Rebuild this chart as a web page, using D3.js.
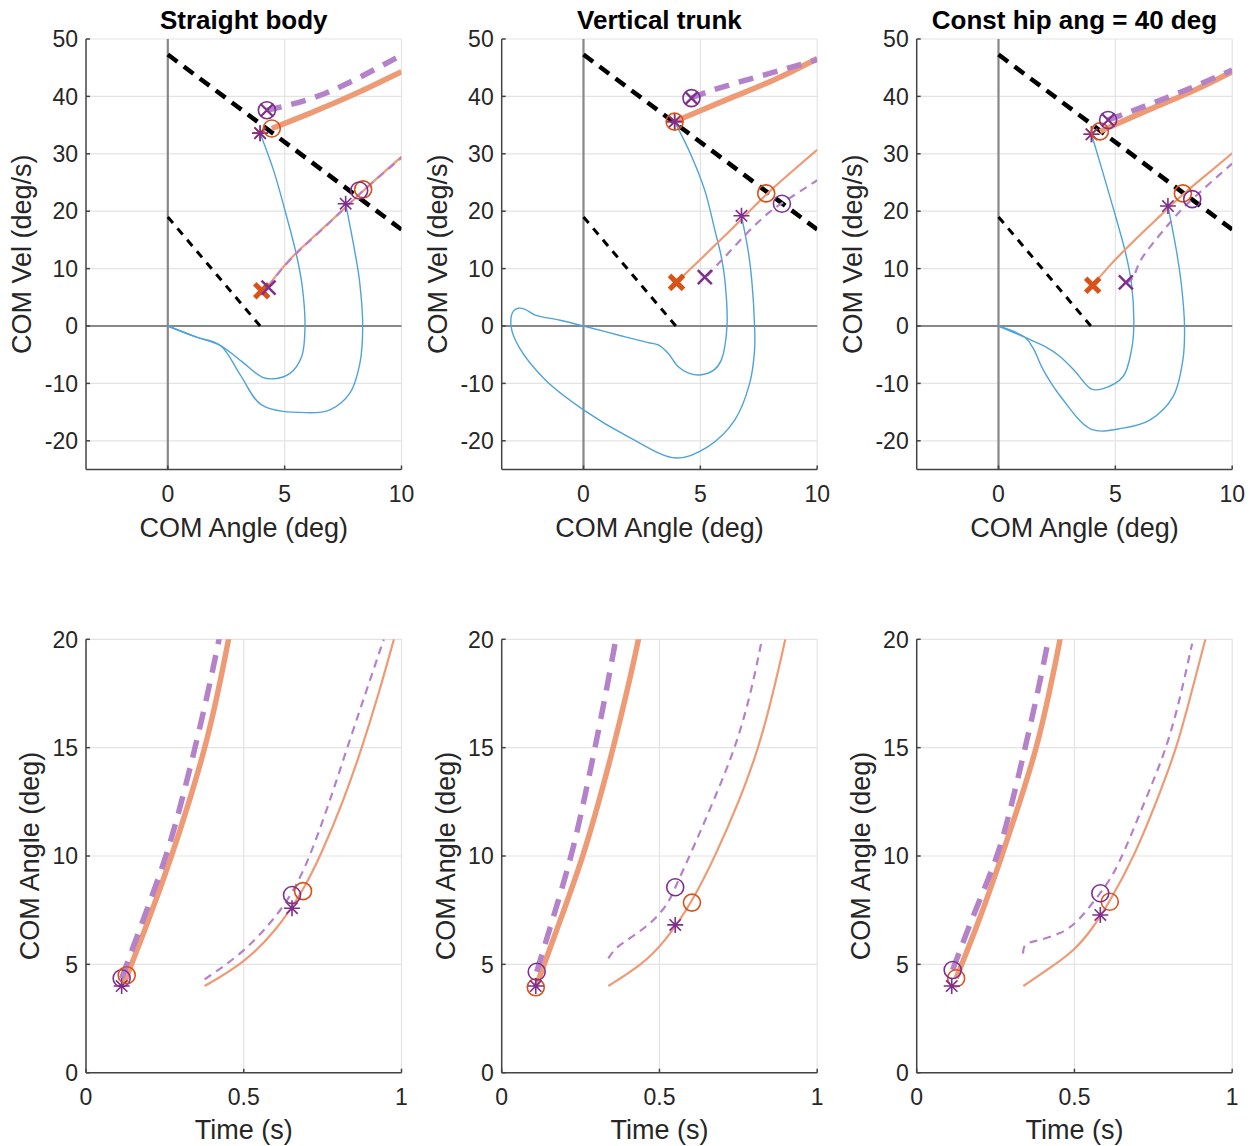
<!DOCTYPE html>
<html>
<head>
<meta charset="utf-8">
<script src="https://d3js.org/d3.v7.min.js"></script>
<style>
  body { margin: 0; background: #fff; }
  text { font-family: "Liberation Sans", Arial, sans-serif; fill: #262626; }
</style>
</head>
<body>
<script>
// ---- data ----
const titles = ["Straight body", "Vertical trunk", "Const hip ang = 40 deg"];
const velTicks = [-20, -10, 0, 10, 20, 30, 40, 50];
const angTicks = [0, 5, 10];
const timeTicks = [0, 0.5, 1];
const timeAngTicks = [0, 5, 10, 15, 20];

// shared reference lines (COM angle, COM vel)
const capLine = [[0, 47.3], [10, 16.8]];
const thinLine = [[0, 19], [3.95, 0]];

// straight body - phase plane
const sbBlueA = [[0,0],[1.2,-1.9],[2.25,-3.4],[3.2,-6.3],[4.03,-8.9],[4.52,-9.2],[5.24,-8.2],[5.73,-5.3],[5.87,0],[5.75,7],[5.5,12.5],[5.09,19],[4.52,27.2],[3.95,33.6]];
const sbBlueB = [[0,0],[1.2,-1.9],[2.25,-3.4],[3.1,-8.5],[4.03,-13.8],[5.95,-15.1],[6.94,-14.6],[7.79,-11.7],[8.22,-6.5],[8.34,0],[8.2,8],[8.0,13],[7.61,21.3]];
const sbOrangeUp = [[4.45,34.4],[6,36.9],[8,40.3],[10,44.3]];
const sbPurpleUp = [[4.24,37.6],[6.2,39.4],[8.1,43.0],[10,47.2]];
const sbOrangeLow = [[4.25,6.7],[4.8,9.7],[5.5,12.9],[7,18.3],[8.36,23.6],[10,29.5]];
const sbPurpleLow = [[4.31,6.9],[4.8,9.6],[5.5,12.8],[7,18.2],[8.19,23.1],[10,29.3]];
const sbMarks = [["star","o",3.95,33.6],["star","p",3.95,33.6],["circ","o",4.45,34.4],["circx","p",4.24,37.6],
  ["xbold","o",4.02,6.15],["x","p",4.31,6.7],["circ","o",8.36,23.8],["circ","p",8.19,23.6],["star","p",7.61,21.3]];

// vertical trunk - phase plane
const vtBlueA = [[0,0],[1.64,-1.74],[2.77,-2.9],[3.2,-3.3],[3.63,-4.8],[4.03,-7],[4.5,-8.2],[5.05,-8.5],[5.6,-7.6],[5.9,-5.9],[6.14,0],[6.05,8],[5.9,12],[5.62,16.7],[5.2,23.5],[4.6,29.8],[3.9,35.6]];
const vtBlueB = [[0,0],[-1.0,1.0],[-2.06,1.9],[-2.5,2.9],[-2.8,3.1],[-3.0,2.6],[-3.1,0],[-2.77,-3.6],[-1.63,-9.4],[0,-14.6],[1.92,-19.3],[3.98,-23],[5.33,-21],[6.47,-16.4],[7.11,-10],[7.32,-4.2],[7.32,0],[7.2,8],[7.05,13],[6.76,19.2]];
const vtOrangeUp = [[3.9,35.6],[6.2,39.6],[8.3,43.0],[10,46.6]];
const vtPurpleUp = [[4.62,39.7],[5.05,40.5],[6.46,42.3],[8.75,44.9],[10,46.4]];
const vtOrangeLow = [[3.98,7.6],[5,11.6],[6,15.5],[7,19.6],[7.82,23.0],[9,27.2],[10,30.7]];
const vtPurpleLow = [[5.3,8.7],[5.7,10.6],[6.19,12.6],[7.04,16.5],[8.03,20.2],[8.49,21.4],[10,25.4]];
const vtMarks = [["star","o",3.9,35.6],["star","p",3.9,35.6],["circ","o",3.9,35.6],["circx","p",4.62,39.7],
  ["xbold","o",3.98,7.6],["x","p",5.19,8.5],["circ","o",7.82,23.1],["circ","p",8.49,21.3],["star","p",6.76,19.2]];

// const hip angle - phase plane
const chBlueA = [[0,0],[1.14,-2.0],[2.0,-3.6],[2.63,-5.3],[3.3,-8.0],[3.98,-11.0],[4.48,-10.9],[5.33,-8.8],[5.69,-4.2],[5.79,0],[5.69,7.4],[5.45,12.5],[4.77,22.5],[3.98,33.4]];
const chBlueB = [[0,0],[1.14,-2.0],[1.5,-4.0],[1.92,-7.7],[2.77,-12.9],[3.98,-18.0],[5.33,-17.8],[6.47,-16.4],[7.47,-12.3],[7.89,-5.9],[7.96,0],[7.82,7.4],[7.61,13.2],[7.25,20.9]];
const chOrangeUp = [[4.34,33.9],[6.47,37.8],[8.46,41.1],[10,44.3]];
const chPurpleUp = [[4.69,35.9],[6.47,38.6],[8.46,41.8],[10,44.6]];
const chOrangeLow = [[4.03,7.1],[4.8,10.8],[5.8,14.9],[7,19.5],[7.89,23.0],[9,26.7],[10,30.1]];
const chPurpleLow = [[5.45,7.6],[5.75,7.9],[5.95,10.5],[6.2,12.4],[7.0,16.4],[7.7,19.8],[8.29,22.1],[9.1,25.1],[10,28.3]];
const chMarks = [["star","o",3.98,33.4],["star","p",3.98,33.4],["circ","o",4.34,33.9],["circx","p",4.69,35.9],
  ["xbold","o",4.03,7.1],["x","p",5.45,7.6],["circ","o",7.89,23.1],["circ","p",8.29,22.1],["star","p",7.25,20.9]];

// time series (time s, COM angle deg)
const sbTOrangeUp = [[0.12,4.1],[0.198,7],[0.272,10],[0.327,12.5],[0.378,15],[0.418,17.5],[0.452,20],[0.458,20.5]];
const sbTPurpleUp = [[0.113,4.36],[0.185,7.2],[0.256,10],[0.303,12.5],[0.346,15],[0.386,17.5],[0.422,20],[0.428,20.5]];
const sbTOrangeLow = [[0.376,4.0],[0.5,5.05],[0.6,6.5],[0.688,8.38],[0.743,10],[0.815,12.5],[0.875,15],[0.928,17.5],[0.976,20]];
const sbTPurpleLow = [[0.376,4.31],[0.489,5.43],[0.58,6.8],[0.653,8.2],[0.711,10],[0.772,12.5],[0.828,15],[0.888,17.6],[0.944,20]];
const sbTMarks = [["star","p",0.113,4.0],["circ","p",0.113,4.36],["circ","o",0.129,4.5],["circ","o",0.688,8.38],["circ","p",0.653,8.2],["star","p",0.653,7.59]];

const vtTOrangeUp = [[0.108,3.94],[0.185,7],[0.259,10],[0.308,12.5],[0.354,15],[0.396,17.5],[0.434,20],[0.44,20.5]];
const vtTPurpleUp = [[0.111,4.66],[0.16,7],[0.222,10],[0.26,12.5],[0.296,15],[0.33,17.5],[0.362,20],[0.367,20.5]];
const vtTOrangeLow = [[0.338,4.0],[0.446,5.0],[0.515,6.0],[0.603,7.85],[0.677,10],[0.755,12.6],[0.815,15],[0.86,17.5],[0.899,20]];
const vtTPurpleLow = [[0.338,5.28],[0.36,5.75],[0.391,6.05],[0.476,6.9],[0.529,7.82],[0.55,8.56],[0.614,10.59],[0.677,12.74],[0.741,15],[0.79,17.5],[0.825,20]];
const vtTMarks = [["circ","o",0.108,3.94],["star","p",0.108,4.0],["circ","p",0.111,4.66],["circ","o",0.603,7.85],["circ","p",0.55,8.56],["star","p",0.55,6.82]];

const chTOrangeUp = [[0.125,4.36],[0.198,7],[0.27,10],[0.327,12.5],[0.381,15],[0.42,17.5],[0.455,20],[0.46,20.5]];
const chTPurpleUp = [[0.114,4.74],[0.185,7.5],[0.259,10],[0.303,12.5],[0.344,15],[0.383,17.5],[0.418,20],[0.423,20.5]];
const chTOrangeLow = [[0.338,4.0],[0.44,5.0],[0.503,5.7],[0.555,6.6],[0.612,7.89],[0.69,10],[0.76,12.5],[0.825,15],[0.87,17.5],[0.915,20]];
const chTPurpleLow = [[0.337,5.5],[0.339,5.97],[0.381,6.08],[0.455,6.4],[0.508,6.9],[0.582,8.28],[0.635,9.35],[0.72,12.43],[0.794,15],[0.84,17.6],[0.873,19.8]];
const chTMarks = [["circ","o",0.125,4.36],["circ","p",0.114,4.74],["star","p",0.111,4.0],["circ","o",0.612,7.89],["circ","p",0.582,8.28],["star","p",0.582,7.28]];

const phase = [
  {blue: [sbBlueA, sbBlueB], up: [sbOrangeUp, sbPurpleUp], low: [sbOrangeLow, sbPurpleLow], marks: sbMarks},
  {blue: [vtBlueA, vtBlueB], up: [vtOrangeUp, vtPurpleUp], low: [vtOrangeLow, vtPurpleLow], marks: vtMarks},
  {blue: [chBlueA, chBlueB], up: [chOrangeUp, chPurpleUp], low: [chOrangeLow, chPurpleLow], marks: chMarks}
];
const timeSeries = [
  {up: [sbTOrangeUp, sbTPurpleUp], low: [sbTOrangeLow, sbTPurpleLow], marks: sbTMarks},
  {up: [vtTOrangeUp, vtTPurpleUp], low: [vtTOrangeLow, vtTPurpleLow], marks: vtTMarks},
  {up: [chTOrangeUp, chTPurpleUp], low: [chTOrangeLow, chTPurpleLow], marks: chTMarks}
];

// ---- drawing ----
const svg = d3.select("body").append("svg")
  .attr("width", 1255).attr("height", 1146);

const markCol = {o: "#D95319", p: "#7E2F8E"};
const lineOrange = "#EE9A74", linePurple = "#B482C8", blue = "#4FA3DB";
const axisCol = "#444", gridCol = "#e3e3e3";

const lefts = [86, 501.7, 916.7];
const pw = 315.5;

function drawMark(g, m, x, y) {
  const [type, s, vx, vy] = m;
  const cx = x(vx), cy = y(vy), c = markCol[s];
  const mg = g.append("g").attr("transform", `translate(${cx},${cy})`)
    .attr("stroke", c).attr("fill", "none");
  if (type === "circ" || type === "circx") {
    mg.append("circle").attr("r", 8.5).attr("stroke-width", 1.6);
  }
  if (type === "circx") {
    mg.append("path").attr("d", "M-6,-6L6,6M-6,6L6,-6").attr("stroke-width", 2.2);
  }
  if (type === "star") {
    mg.append("path").attr("d", "M-8,0L8,0M0,-8L0,8M-5.7,-5.7L5.7,5.7M-5.7,5.7L5.7,-5.7").attr("stroke-width", 1.6);
  }
  if (type === "xbold") {
    mg.append("path").attr("d", "M-7,-7L7,7M-7,7L7,-7").attr("stroke-width", 5);
  }
  if (type === "x") {
    mg.append("path").attr("d", "M-7,-7L7,7M-7,7L7,-7").attr("stroke-width", 2.5);
  }
}

function frame(g, x, y, xt, yt, top, bottom, left, zeroLines) {
  // grid
  g.selectAll(".gx").data(xt).join("line")
    .attr("x1", d => x(d)).attr("x2", d => x(d)).attr("y1", top).attr("y2", bottom)
    .attr("stroke", gridCol).attr("stroke-width", 1.2);
  g.selectAll(".gy").data(yt).join("line")
    .attr("x1", left).attr("x2", left + pw).attr("y1", d => y(d)).attr("y2", d => y(d))
    .attr("stroke", gridCol).attr("stroke-width", 1.2);
  if (zeroLines) {
    g.append("line").attr("x1", x(0)).attr("x2", x(0)).attr("y1", top).attr("y2", bottom)
      .attr("stroke", "#888").attr("stroke-width", 2.2);
    g.append("line").attr("x1", left).attr("x2", left + pw).attr("y1", y(0)).attr("y2", y(0))
      .attr("stroke", "#888").attr("stroke-width", 2.2);
  }
  // axes
  g.append("line").attr("x1", left).attr("x2", left).attr("y1", top).attr("y2", bottom)
    .attr("stroke", axisCol).attr("stroke-width", 1.5);
  g.append("line").attr("x1", left).attr("x2", left + pw).attr("y1", bottom).attr("y2", bottom)
    .attr("stroke", axisCol).attr("stroke-width", 1.5);
  g.selectAll(".ty").data(yt).join("line")
    .attr("x1", left).attr("x2", left + 4).attr("y1", d => y(d)).attr("y2", d => y(d))
    .attr("stroke", axisCol).attr("stroke-width", 1.5);
  g.selectAll(".tx").data(xt).join("line")
    .attr("x1", d => x(d)).attr("x2", d => x(d)).attr("y1", bottom).attr("y2", bottom - 4)
    .attr("stroke", axisCol).attr("stroke-width", 1.5);
  g.selectAll(".ly").data(yt).join("text")
    .attr("x", left - 8).attr("y", d => y(d)).attr("dy", "0.36em")
    .attr("text-anchor", "end").style("font-size", "23px").text(d => d);
  g.selectAll(".lx").data(xt).join("text")
    .attr("x", d => x(d)).attr("y", bottom + 32)
    .attr("text-anchor", "middle").style("font-size", "23px").text(d => d);
}

const curveBlue = d3.curveCatmullRom.alpha(0.5);
const curveSmooth = d3.curveBasis;

phase.forEach((p, i) => {
  const left = lefts[i], top = 39, bottom = 469.5;
  const x = d3.scaleLinear().domain([-3.5, 10]).range([left, left + pw]);
  const y = d3.scaleLinear().domain([-25, 50]).range([bottom, top]);
  const line = d3.line().x(d => x(d[0])).y(d => y(d[1])).curve(curveSmooth);
  const lineB = d3.line().x(d => x(d[0])).y(d => y(d[1])).curve(curveBlue);
  const g = svg.append("g");
  const clipId = "clipP" + i;
  g.append("clipPath").attr("id", clipId).append("rect")
    .attr("x", left).attr("y", top - 2).attr("width", pw).attr("height", bottom - top + 2);

  frame(g, x, y, angTicks, velTicks, top, bottom, left, true);

  const pg = g.append("g").attr("clip-path", `url(#${clipId})`).attr("fill", "none");
  pg.append("path").attr("d", line(capLine)).attr("stroke", "#000").attr("stroke-width", 4.5).attr("stroke-dasharray", "12,8");
  pg.append("path").attr("d", line(thinLine)).attr("stroke", "#000").attr("stroke-width", 3).attr("stroke-dasharray", "8,7");
  p.blue.forEach(b => pg.append("path").attr("d", lineB(b)).attr("stroke", blue).attr("stroke-width", 1.4));
  pg.append("path").attr("d", line(p.low[0])).attr("stroke", lineOrange).attr("stroke-width", 2.2);
  pg.append("path").attr("d", line(p.low[1])).attr("stroke", linePurple).attr("stroke-width", 2.2).attr("stroke-dasharray", "8,6");
  pg.append("path").attr("d", line(p.up[0])).attr("stroke", lineOrange).attr("stroke-width", 5.5);
  pg.append("path").attr("d", line(p.up[1])).attr("stroke", linePurple).attr("stroke-width", 5.5).attr("stroke-dasharray", "15,10");

  p.marks.forEach(m => drawMark(g, m, x, y));

  g.append("text").attr("x", left + pw / 2).attr("y", 29).attr("text-anchor", "middle")
    .style("font-size", "26px").style("font-weight", "bold").style("fill", "#000").text(titles[i]);
  g.append("text").attr("x", left + pw / 2).attr("y", 537).attr("text-anchor", "middle")
    .style("font-size", "27px").text("COM Angle (deg)");
  g.append("text").attr("transform", `translate(${left - 55},${(top + bottom) / 2}) rotate(-90)`)
    .attr("text-anchor", "middle").style("font-size", "27px").text("COM Vel (deg/s)");
});

timeSeries.forEach((p, i) => {
  const left = lefts[i], top = 639.3, bottom = 1072.7;
  const x = d3.scaleLinear().domain([0, 1]).range([left, left + pw]);
  const y = d3.scaleLinear().domain([0, 20]).range([bottom, top]);
  const line = d3.line().x(d => x(d[0])).y(d => y(d[1])).curve(curveSmooth);
  const g = svg.append("g");
  const clipId = "clipT" + i;
  g.append("clipPath").attr("id", clipId).append("rect")
    .attr("x", left).attr("y", top).attr("width", pw).attr("height", bottom - top);

  frame(g, x, y, timeTicks, timeAngTicks, top, bottom, left, false);

  const pg = g.append("g").attr("clip-path", `url(#${clipId})`).attr("fill", "none");
  pg.append("path").attr("d", line(p.low[0])).attr("stroke", lineOrange).attr("stroke-width", 2.2);
  pg.append("path").attr("d", line(p.low[1])).attr("stroke", linePurple).attr("stroke-width", 2.2).attr("stroke-dasharray", "8,6");
  pg.append("path").attr("d", line(p.up[0])).attr("stroke", lineOrange).attr("stroke-width", 5.5);
  pg.append("path").attr("d", line(p.up[1])).attr("stroke", linePurple).attr("stroke-width", 5.5).attr("stroke-dasharray", "18,11");

  p.marks.forEach(m => drawMark(g, m, x, y));

  g.append("text").attr("x", left + pw / 2).attr("y", 1139).attr("text-anchor", "middle")
    .style("font-size", "27px").text("Time (s)");
  g.append("text").attr("transform", `translate(${left - 47},${(top + bottom) / 2}) rotate(-90)`)
    .attr("text-anchor", "middle").style("font-size", "27px").text("COM Angle (deg)");
});
</script>
</body>
</html>
